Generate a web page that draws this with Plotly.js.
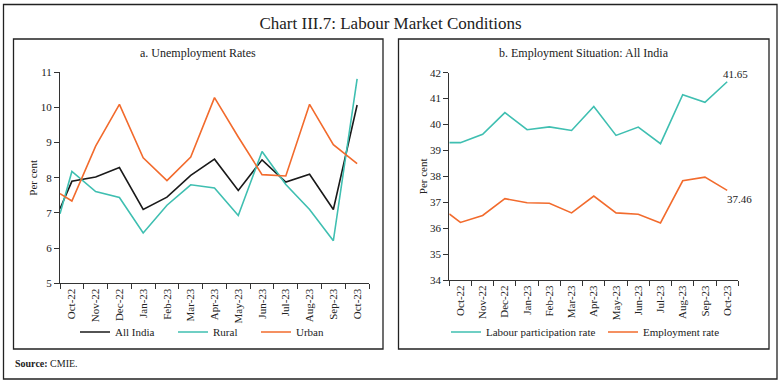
<!DOCTYPE html>
<html>
<head>
<meta charset="utf-8">
<script src="https://cdn.plot.ly/plotly-3.0.1.min.js"></script>
<style>html,body{margin:0;padding:0;background:#fff;}#chart{width:781px;height:382px;}</style>
</head>
<body>
<div id="chart"></div>
<script>
// Month labels (one per category on the x axis)
var categories = ['Oct-22','Nov-22','Dec-22','Jan-23','Feb-23','Mar-23','Apr-23','May-23','Jun-23','Jul-23','Aug-23','Sep-23','Oct-23'];
// Each series has an opening value at the left edge of the axis, then one value per month
var allIndia = [7.12, 7.90, 8.02, 8.29, 7.10, 7.45, 8.07, 8.53, 7.64, 8.51, 7.88, 8.10, 7.10, 10.07];
var rural    = [6.98, 8.18, 7.61, 7.44, 6.43, 7.22, 7.80, 7.71, 6.93, 8.75, 7.81, 7.10, 6.21, 10.81];
var urban    = [7.55, 7.34, 8.90, 10.09, 8.57, 7.92, 8.59, 10.28, 9.16, 8.09, 8.05, 10.09, 8.94, 8.40];
var lfpr     = [39.30, 39.30, 39.62, 40.46, 39.80, 39.91, 39.77, 40.70, 39.58, 39.90, 39.26, 41.15, 40.86, 41.65];
var empRate  = [36.55, 36.22, 36.49, 37.14, 36.98, 36.96, 36.59, 37.24, 36.59, 36.54, 36.20, 37.83, 37.97, 37.46];
var yTicksA = [5, 6, 7, 8, 9, 10, 11];
var yTicksB = [34, 35, 36, 37, 38, 39, 40, 41, 42];

var W = 781, H = 382;
function px(x){ return x / W; }
function py(y){ return 1 - y / H; }

var centers = categories.map(function(_, i){ return i; });
var xPos = [-0.5].concat(centers);
var bounds = [-0.5].concat(centers.map(function(i){ return i + 0.5; }));

var teal = '#3fbfb1', orange = '#f26b2d', black = '#1a1a1a';
var serif = 'Liberation Serif, Times New Roman, serif';

var traces = [
  {x: xPos, y: allIndia, name: 'All India', type: 'scatter', mode: 'lines', line: {color: black, width: 1.6}, xaxis: 'x', yaxis: 'y', legend: 'legend', showlegend: true},
  {x: xPos, y: rural, name: 'Rural', type: 'scatter', mode: 'lines', line: {color: teal, width: 1.6}, xaxis: 'x', yaxis: 'y', legend: 'legend2', showlegend: true},
  {x: xPos, y: urban, name: 'Urban', type: 'scatter', mode: 'lines', line: {color: orange, width: 1.6}, xaxis: 'x', yaxis: 'y', legend: 'legend3', showlegend: true},
  {x: xPos, y: lfpr, name: 'Labour participation rate', type: 'scatter', mode: 'lines', line: {color: teal, width: 1.6}, xaxis: 'x2', yaxis: 'y2', legend: 'legend4', showlegend: true},
  {x: xPos, y: empRate, name: 'Employment rate', type: 'scatter', mode: 'lines', line: {color: orange, width: 1.6}, xaxis: 'x2', yaxis: 'y2', legend: 'legend5', showlegend: true}
];

function xAxis(domain, anchor){
  return {
    domain: domain, anchor: anchor, range: [-0.5, categories.length - 0.5],
    tickvals: centers, ticktext: categories, tickangle: -90,
    ticks: '', showline: true, linecolor: '#333', linewidth: 1,
    showgrid: false, zeroline: false, fixedrange: true, automargin: false,
    tickfont: {family: serif, size: 11, color: '#222'},
    minor: {tickvals: bounds, ticks: 'outside', ticklen: 5, tickcolor: '#333', tickwidth: 1, showgrid: false}
  };
}
function yAxis(domain, anchor, range, ticks){
  return {
    domain: domain, anchor: anchor, range: range, tickvals: ticks,
    ticks: 'outside', ticklen: 5, tickcolor: '#333', showline: true, linecolor: '#333', linewidth: 1,
    showgrid: false, zeroline: false, fixedrange: true, automargin: false,
    tickfont: {family: serif, size: 11, color: '#222'},
    title: {text: 'Per cent', font: {family: serif, size: 11, color: '#222'}, standoff: 0}
  };
}
function legendAt(lineStart){
  return {orientation: 'h', x: px(lineStart - 7), y: py(332), xanchor: 'left', yanchor: 'middle', bgcolor: 'rgba(0,0,0,0)',
          font: {family: serif, size: 11, color: '#222'}, itemwidth: 30, visible: true};
}

var layout = {
  width: W, height: H, margin: {l: 0, r: 0, t: 0, b: 0, autoexpand: false},
  paper_bgcolor: '#fff', plot_bgcolor: '#fff', showlegend: true,
  title: {text: 'Chart III.7: Labour Market Conditions', x: 0.5, xanchor: 'center', y: py(23), yanchor: 'middle', yref: 'paper',
          font: {family: serif, size: 17, color: '#222'}},
  xaxis: xAxis([px(60), px(369)], 'y'),
  yaxis: yAxis([py(283.3), py(72.3)], 'x', [5, 11], yTicksA),
  xaxis2: xAxis([px(449.3), px(738.3)], 'y2'),
  yaxis2: yAxis([py(280), py(72.7)], 'x2', [34, 42], yTicksB),
  legend: legendAt(82),
  legend2: legendAt(180),
  legend3: legendAt(263),
  legend4: legendAt(453),
  legend5: legendAt(610),
  shapes: [
    {type: 'rect', xref: 'paper', yref: 'paper', x0: px(3.5), x1: px(777), y0: py(379), y1: py(4.5), line: {color: '#222', width: 1.3}},
    {type: 'rect', xref: 'paper', yref: 'paper', x0: px(13.5), x1: px(383), y0: py(349), y1: py(39), line: {color: '#222', width: 1.3}},
    {type: 'rect', xref: 'paper', yref: 'paper', x0: px(398.5), x1: px(769), y0: py(349), y1: py(39), line: {color: '#222', width: 1.3}}
  ],
  annotations: [
    {text: 'a. Unemployment Rates', xref: 'paper', yref: 'paper', x: px(198), y: py(53), xanchor: 'center', yanchor: 'middle', showarrow: false,
     font: {family: serif, size: 12, color: '#222'}},
    {text: 'b. Employment Situation: All India', xref: 'paper', yref: 'paper', x: px(584), y: py(53), xanchor: 'center', yanchor: 'middle', showarrow: false,
     font: {family: serif, size: 12, color: '#222'}},
    {text: String(lfpr[lfpr.length - 1].toFixed(2)), xref: 'x2', yref: 'y2', x: centers[centers.length - 1], y: lfpr[lfpr.length - 1],
     xanchor: 'center', yanchor: 'bottom', xshift: 8, yshift: 0, showarrow: false, font: {family: serif, size: 11, color: '#222'}},
    {text: String(empRate[empRate.length - 1].toFixed(2)), xref: 'x2', yref: 'y2', x: centers[centers.length - 1], y: empRate[empRate.length - 1],
     xanchor: 'center', yanchor: 'top', xshift: 12, yshift: -1, showarrow: false, font: {family: serif, size: 11, color: '#222'}},
    {text: '<b>Source:</b> CMIE.', xref: 'paper', yref: 'paper', x: px(13), y: py(363), xanchor: 'left', yanchor: 'middle', showarrow: false,
     font: {family: serif, size: 10, color: '#222'}}
  ]
};

Plotly.newPlot('chart', traces, layout, {staticPlot: true, displayModeBar: false});
</script>
</body>
</html>
